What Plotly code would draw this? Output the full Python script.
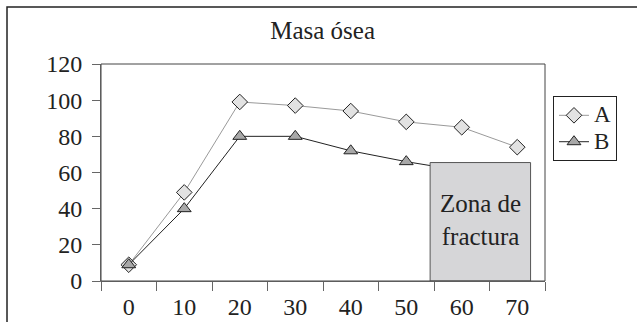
import plotly.graph_objects as go

ages = ["0", "10", "20", "30", "40", "50", "60", "70"]
serie_a = [9, 49, 99, 97, 94, 88, 85, 74]
serie_b = [9, 40, 80, 80, 72, 66, 61, 57]
y_ticks = [0, 20, 40, 60, 80, 100, 120]
series_names = ["A", "B"]
zona_label = "Zona de<br>fractura"

FONT = "Liberation Serif"
BIG = '<span style="font-size:23px">{}</span>'

fig = go.Figure()
fig.add_trace(go.Scatter(
    x=ages, y=serie_a, name=BIG.format(series_names[0]), mode="lines+markers",
    line=dict(color="#9a9a9a", width=1),
    marker=dict(symbol="diamond", size=12, color="#e2e2e2",
                line=dict(color="#222222", width=1)),
))
fig.add_trace(go.Scatter(
    x=ages, y=serie_b, name=BIG.format(series_names[1]), mode="lines+markers",
    line=dict(color="#222222", width=1),
    marker=dict(symbol="triangle-up", size=12, color="#a8a8a8",
                line=dict(color="#222222", width=1)),
))

# fracture zone box (drawn over series)
fig.add_shape(type="rect", xref="x", yref="y", x0=5.43, x1=7.24, y0=0, y1=65.5,
              fillcolor="#d6d6d8", line=dict(color="#555555", width=1), layer="above")
fig.add_annotation(x=6.335, y=34, xref="x", yref="y", text=zona_label, showarrow=False,
                   font=dict(family=FONT, size=25, color="#222222"), align="center")

# plot frame top/right
fig.add_shape(type="rect", xref="paper", yref="paper", x0=0, x1=1, y0=0, y1=1,
              line=dict(color="#444444", width=1), layer="above")
# outer chart border (cropped at right/bottom)
fig.add_shape(type="rect", xref="paper", yref="paper", x0=-0.2117, x1=2, y0=-1, y1=1.2627,
              line=dict(color="#222222", width=1.5))

fig.update_layout(
    width=637, height=322,
    margin=dict(l=101, r=92, t=64, b=41, autoexpand=False),
    paper_bgcolor="white", plot_bgcolor="white",
    font=dict(family=FONT, size=22, color="#222222"),
    title=dict(text="Masa ósea", x=0.5065, xanchor="center", y=0.907, yanchor="middle",
               yref="container", font=dict(family=FONT, size=25, color="#222222")),
    showlegend=True,
    legend=dict(x=1.018, y=0.852, xanchor="left", yanchor="top",
                bordercolor="#222222", borderwidth=1, bgcolor="white",
                font=dict(family=FONT, size=18, color="#222222"),
                itemwidth=30, tracegroupgap=0),
    xaxis=dict(type="category", categoryorder="array", categoryarray=ages,
               range=[-0.5, 7.5], tickson="boundaries", ticks="outside", ticklen=9,
               tickcolor="#666666", showline=True, linecolor="#777777", linewidth=1,
               showgrid=False, zeroline=False, ticklabelstandoff=4, automargin=False,
               tickfont=dict(family=FONT, size=24, color="#222222")),
    yaxis=dict(range=[0, 120], tickvals=y_ticks, ticks="outside", ticklen=8,
               tickcolor="#666666", showline=True, linecolor="#777777", linewidth=1,
               showgrid=False, zeroline=False, ticklabelstandoff=5, automargin=False,
               tickfont=dict(family=FONT, size=24, color="#222222")),
)

fig.write_html("out.html")
